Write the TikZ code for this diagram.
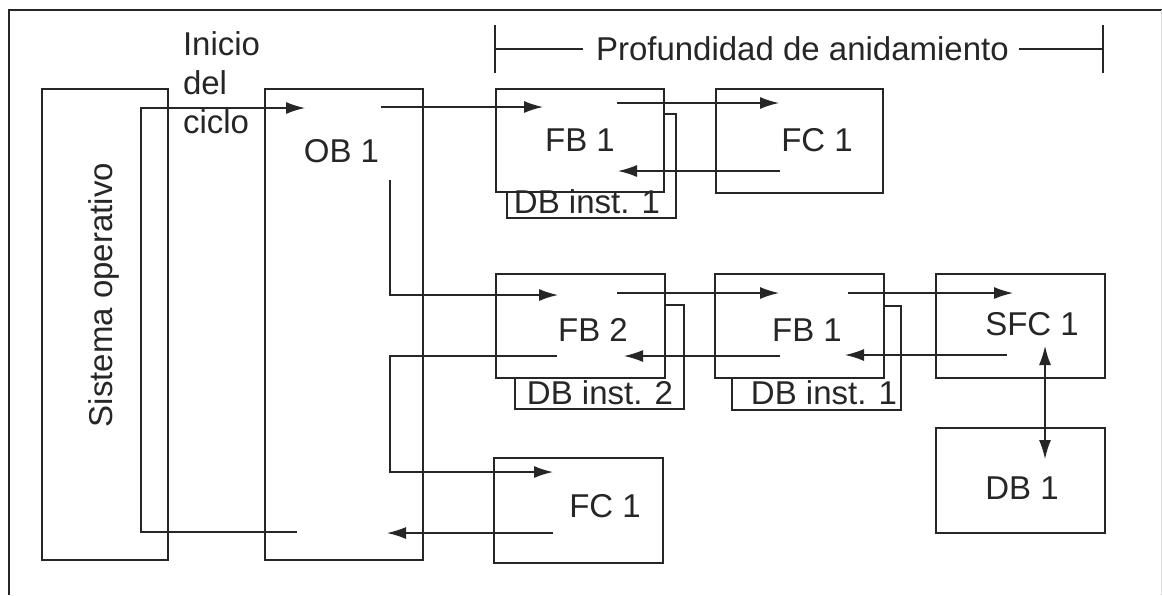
\documentclass[tikz,border=0pt]{standalone}
\usepackage{fontspec}
\setmainfont{Liberation Sans}
\usetikzlibrary{arrows.meta}
\definecolor{ink}{HTML}{262626}
\begin{document}
\begin{tikzpicture}[x=1pt,y=-1pt,line width=1.4pt,draw=ink,
  blk/.style={draw=ink,fill=white,rectangle,inner sep=0pt,outer sep=0pt,line width=1.4pt},
  lbl/.style={inner sep=0pt,outer sep=0pt,text=ink,font=\fontsize{33}{39}\selectfont,anchor=base},
  arr/.style={draw=ink,line width=1.4pt,-{Latex[length=19pt,width=12pt]}},
  dbl/.style={draw=ink,line width=1.4pt,{Latex[length=19pt,width=12pt]}-{Latex[length=19pt,width=12pt]}},
  ln/.style={draw=ink,line width=1.4pt}]
\useasboundingbox (0,0) rectangle (1162,595);
% outer frame
\coordinate (fTL) at (9,10);
\coordinate (fTR) at (1162,10);
\coordinate (fBL) at (9,595);
\draw[ln] (fBL) -- (fTL) -- (fTR);
\coordinate (gT) at (1161,10);
\coordinate (gB) at (1161,595);
\draw[draw=black!15,line width=1pt] (gT) -- (gB);
% nesting depth bracket
\coordinate (bL1) at (495,25); \coordinate (bL2) at (495,73);
\coordinate (bR1) at (1103,25); \coordinate (bR2) at (1103,73);
\coordinate (bLa) at (495,49); \coordinate (bLb) at (583,49);
\coordinate (bRa) at (1019,49); \coordinate (bRb) at (1103,49);
\draw[ln] (bL1) -- (bL2);
\draw[ln] (bR1) -- (bR2);
\draw[ln] (bLa) -- (bLb);
\draw[ln] (bRa) -- (bRb);
\node[lbl,anchor=base west] (prof) at (596,60) {Profundidad de anidamiento};
% boxes
\node[blk,minimum width=126,minimum height=471] (so) at (105,324.5) {};
\node[blk,minimum width=158,minimum height=471] (ob1) at (344,324.5) {};
\node[blk,minimum width=169,minimum height=104] (dbi1t) at (591.5,166) {};
\node[blk,minimum width=168,minimum height=103] (fb1t) at (580,140.5) {};
\node[blk,minimum width=167,minimum height=104] (fc1t) at (799.5,141) {};
\node[blk,minimum width=169,minimum height=104] (dbi2) at (599.5,357) {};
\node[blk,minimum width=169,minimum height=104] (fb2) at (580.5,326) {};
\node[blk,minimum width=169,minimum height=104] (dbi1m) at (816.5,358) {};
\node[blk,minimum width=169,minimum height=104] (fb1m) at (799.5,326) {};
\node[blk,minimum width=169,minimum height=104] (sfc1) at (1020.5,326) {};
\node[blk,minimum width=169,minimum height=105] (db1) at (1020.5,480.5) {};
\node[blk,minimum width=169,minimum height=105] (fc1b) at (578.5,510.5) {};
% connector points
\coordinate (cycRet) at (297,532);
\coordinate (cycC1) at (141,532);
\coordinate (cycC2) at (141,108);
\coordinate (cycIn) at (305,108);
\coordinate (obOutT) at (381,107);
\coordinate (fbInT) at (543,107);
\coordinate (fbOutT) at (617,103);
\coordinate (fcInT) at (779,103);
\coordinate (fcRetT) at (780,171);
\coordinate (fbRetT) at (618,171);
\coordinate (obOutM) at (390,180);
\coordinate (obCornM) at (390,295);
\coordinate (fb2In) at (558,295);
\coordinate (fb2Out) at (617,293);
\coordinate (fb1mIn) at (779,293);
\coordinate (fb1mOut) at (848,293);
\coordinate (sfcIn) at (1013,293);
\coordinate (sfcRet) at (1007,355);
\coordinate (fb1mRet) at (845,355);
\coordinate (fb1mBack) at (780,356);
\coordinate (fb2Ret) at (624,356);
\coordinate (fb2Back) at (557,356);
\coordinate (obC1) at (390,356);
\coordinate (obC2) at (390,472);
\coordinate (fcbIn) at (553,472);
\coordinate (fcbBack) at (553,533);
\coordinate (obRet) at (387,533);
\coordinate (sfcDb) at (1045,346);
\coordinate (dbSfc) at (1045,459);
% connectors
\draw[arr] (cycRet) -- (cycC1) -- (cycC2) -- (cycIn);
\draw[arr] (obOutT) -- (fbInT);
\draw[arr] (fbOutT) -- (fcInT);
\draw[arr] (fcRetT) -- (fbRetT);
\draw[arr] (obOutM) -- (obCornM) -- (fb2In);
\draw[arr] (fb2Out) -- (fb1mIn);
\draw[arr] (fb1mOut) -- (sfcIn);
\draw[arr] (sfcRet) -- (fb1mRet);
\draw[arr] (fb1mBack) -- (fb2Ret);
\draw[arr] (fb2Back) -- (obC1) -- (obC2) -- (fcbIn);
\draw[arr] (fcbBack) -- (obRet);
\draw[dbl] (sfcDb) -- (dbSfc);
% labels
\node[lbl,rotate=90] (sotxt) at (112,295) {Sistema operativo};
\node[lbl,anchor=base west] (inicio1) at (183,55) {Inicio};
\node[lbl,anchor=base west] (inicio2) at (183,94) {del};
\node[lbl,anchor=base west] (inicio3) at (183,133) {ciclo};
\node[lbl] (ob1txt) at (341.5,162) {OB 1};
\node[lbl] (fb1ttxt) at (580,151.5) {FB 1};
\node[lbl] (fc1ttxt) at (817,151.5) {FC 1};
\node[lbl] (dbi1ttxt) at (587,213) {DB inst. 1};
\node[lbl] (fb2txt) at (593,341.5) {FB 2};
\node[lbl] (fb1mtxt) at (807,341.5) {FB 1};
\node[lbl] (dbi2txt) at (600,404) {DB inst. 2};
\node[lbl] (dbi1mtxt) at (824,404) {DB inst. 1};
\node[lbl] (sfc1txt) at (1032,335) {SFC 1};
\node[lbl] (db1txt) at (1022,499) {DB 1};
\node[lbl] (fc1btxt) at (605,517) {FC 1};
\end{tikzpicture}
\end{document}
